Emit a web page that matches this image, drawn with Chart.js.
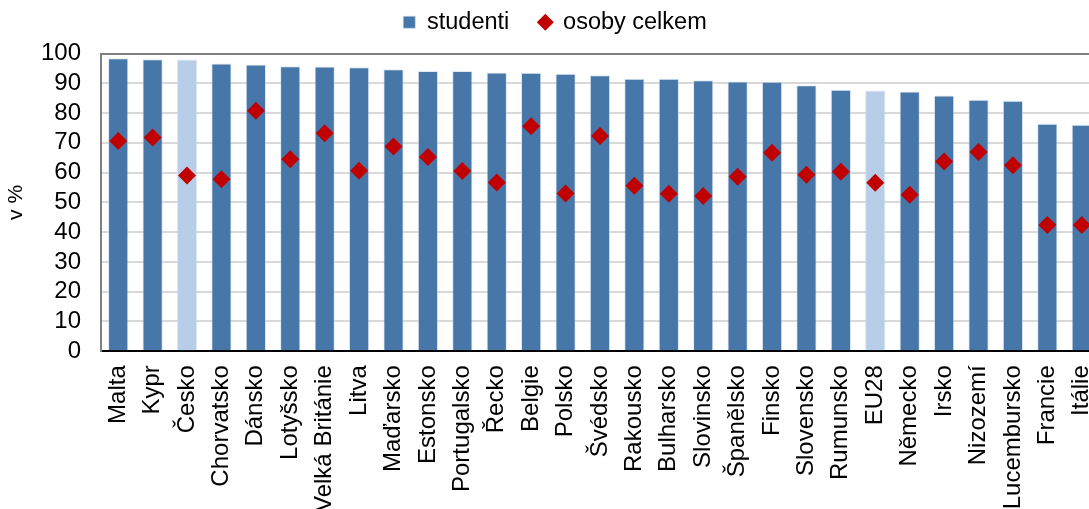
<!DOCTYPE html>
<html>
<head>
<meta charset="utf-8">
<script src="https://cdn.jsdelivr.net/npm/chart.js@4.4.1/dist/chart.umd.min.js"></script>
<style>
  html, body { margin: 0; padding: 0; background: #ffffff; overflow: hidden; }
  #wrap { position: absolute; left: 0; top: 0; }
</style>
</head>
<body>
<div id="wrap"><canvas id="c" width="1125" height="526"></canvas></div>
<script>
const categories = ['Malta','Kypr','Česko','Chorvatsko','Dánsko','Lotyšsko','Velká Británie','Litva','Maďarsko','Estonsko','Portugalsko','Řecko','Belgie','Polsko','Švédsko','Rakousko','Bulharsko','Slovinsko','Španělsko','Finsko','Slovensko','Rumunsko','EU28','Německo','Irsko','Nizozemí','Lucembursko','Francie','Itálie'];
const studenti = [98.4,98.1,98.0,96.6,96.3,95.7,95.6,95.4,94.7,94.1,94.1,93.6,93.5,93.2,92.7,91.5,91.5,91.0,90.6,90.5,89.3,87.8,87.6,87.2,85.9,84.5,84.1,76.4,76.1];
const osobyCelkem = [70.6,71.8,59.0,57.8,80.8,64.5,73.2,60.6,68.8,65.2,60.5,56.7,75.6,53.0,72.3,55.6,52.9,52.1,58.6,66.7,59.3,60.3,56.6,52.6,63.7,66.9,62.5,42.4,42.4];
const highlighted = ['Česko','EU28'];
const yTicks = [0,10,20,30,40,50,60,70,80,90,100];

const FONT = '"Liberation Sans", Arial, sans-serif';
const barColors = categories.map(c => highlighted.includes(c) ? '#B8CDE8' : '#4677A8');

new Chart(document.getElementById('c'), {
  data: {
    labels: categories,
    datasets: [
      {
        type: 'bar',
        label: 'studenti',
        data: studenti,
        backgroundColor: barColors,
        borderColor: 'rgba(200,215,235,0.6)',
        borderWidth: 1,
        categoryPercentage: 1.0,
        barPercentage: 0.59,
        pointStyle: 'rect',
        order: 1
      },
      {
        type: 'line',
        label: 'osoby celkem',
        data: osobyCelkem,
        showLine: false,
        pointStyle: 'rectRot',
        pointRadius: 9,
        pointHoverRadius: 9,
        pointBackgroundColor: '#C00000',
        pointBorderColor: '#C00000',
        pointBorderWidth: 0,
        backgroundColor: '#C00000',
        borderColor: '#C00000',
        borderWidth: 0,
        order: 0
      }
    ]
  },
  options: {
    responsive: false,
    animation: false,
    devicePixelRatio: 1,
    layout: { padding: { top: -19.5, left: 0, right: 15, bottom: 0 } },
    plugins: {
      tooltip: { enabled: false },
      legend: {
        display: true,
        position: 'top',
        labels: {
          usePointStyle: true,
          boxWidth: 12,
          boxHeight: 12,
          padding: 30,
          color: '#000000',
          font: { family: FONT, size: 23.5 },
          sort: (a, b) => a.datasetIndex - b.datasetIndex
        }
      }
    },
    scales: {
      x: {
        type: 'category',
        offset: true,
        grid: { display: false, drawTicks: false },
        border: { display: true, color: '#000000', width: 2 },
        ticks: {
          autoSkip: false,
          minRotation: 90,
          maxRotation: 90,
          padding: 14,
          color: '#000000',
          font: { family: FONT, size: 24 }
        }
      },
      xTop: {
        type: 'category',
        position: 'top',
        display: true,
        grid: { display: false, drawTicks: false },
        border: { display: false },
        ticks: { display: false },
        afterFit: s => { s.height = 9.5; }
      },
      y: {
        min: 0,
        max: 100,
        afterBuildTicks: s => { s.ticks = yTicks.map(v => ({ value: v })); },
        grid: {
          drawTicks: false,
          color: ctx => (ctx.tick && ctx.tick.value === 100) ? '#7F7F7F' : '#D9D9D9',
          lineWidth: 2
        },
        border: { display: true, color: '#808080', width: 2 },
        ticks: {
          autoSkip: false,
          padding: 20,
          color: '#000000',
          font: { family: FONT, size: 24 }
        },
        title: {
          display: true,
          text: 'v %',
          color: '#000000',
          font: { family: FONT, size: 21 },
          padding: { top: 4, bottom: 4 }
        },
        afterFit: s => { s.width = 101; }
      }
    }
  }
});
</script>
</body>
</html>
